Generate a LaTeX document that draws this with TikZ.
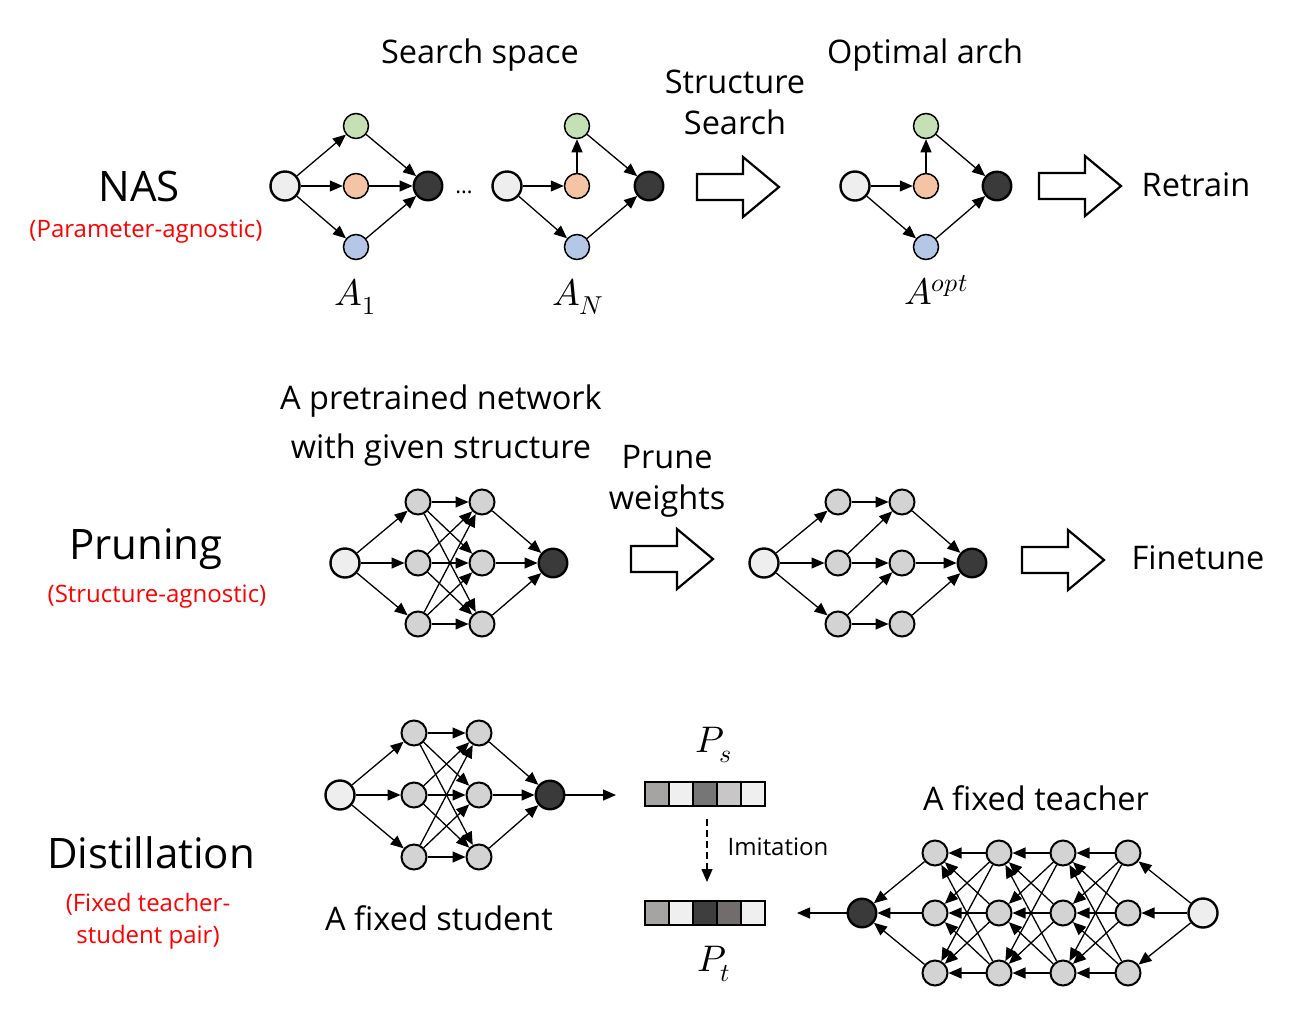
\documentclass[tikz,border=0pt]{standalone}
\usepackage{fontspec}
\usepackage{unicode-math}
\setmainfont{Open Sans}
\setmathfont{Latin Modern Math}
\usetikzlibrary{arrows.meta}
\definecolor{cgreen}{HTML}{C5E0B4}
\definecolor{corange}{HTML}{F4C4A4}
\definecolor{cblue}{HTML}{B4C7E7}
\definecolor{cin}{HTML}{EEEEEE}
\definecolor{cout}{HTML}{3A3A3A}
\definecolor{chid}{HTML}{D3D3D3}
\definecolor{cred}{HTML}{FF0000}
\definecolor{g1}{HTML}{A6A3A3}
\definecolor{g2}{HTML}{EFEFEF}
\definecolor{g3}{HTML}{767676}
\definecolor{g4}{HTML}{C8C6C6}
\definecolor{g5}{HTML}{3E3E3E}
\definecolor{g6}{HTML}{716D6D}
\tikzset{
  nd/.style={circle,draw,inner sep=0pt},
  inp/.style={nd,fill=cin,line width=2.4pt,minimum size=29pt},
  outn/.style={nd,fill=cout,line width=2.4pt,minimum size=28.5pt},
  colnode/.style={nd,line width=1.5pt,minimum size=25pt,fill=#1},
  hid/.style={nd,fill=chid,line width=2pt,minimum size=25pt},
  tip/.style={-{Triangle[length=13pt,width=11pt]}},
  edge/.style={line width=1.3pt,tip},
  barrow/.style={draw,line width=2.2pt,fill=white,line join=miter},
  cell/.style={draw,line width=2pt,minimum width=24pt,minimum height=24pt,inner sep=0pt,fill=#1},
  ttl/.style={font=\fontsize{32.5}{41}\selectfont,align=center},
  big/.style={font=\fontsize{42}{50}\selectfont},
  redl/.style={font=\fontsize{24}{32}\selectfont,text=cred,align=center},
  lbl/.style={font=\fontsize{37}{40}\selectfont},
}
\newcommand\blockarr[2]{\draw[barrow] (#1,#2-13) -- ++(46,0) -- ++(0,-17) -- ++(36,30) -- ++(-36,30) -- ++(0,-17) -- ++(-46,0) -- cycle;}
\begin{document}
\begin{tikzpicture}[x=1pt,y=-1pt]
\useasboundingbox (0,0) rectangle (1310,1013);
% ---------------- NAS ----------------
\node[big] (nas) at (139,186) {NAS};
\node[redl] (nasr) at (146,232) {(Parameter-agnostic)};
\node[ttl] (ss) at (480,55) {Search space};
\node[ttl] (oa) at (925,55) {Optimal arch};
\node[ttl] (strs) at (735,102) {Structure\\Search};
\node[ttl] (retr) at (1196,185) {Retrain};
% A1
\node[inp] (ai) at (285,186) {};
\node[colnode=cgreen] (ag) at (356,126) {};
\node[colnode=corange] (ao) at (356,186) {};
\node[colnode=cblue] (ab) at (356,247) {};
\node[outn] (ax) at (428,186) {};
\foreach \s/\t in {ai/ag,ai/ao,ai/ab,ag/ax,ao/ax,ab/ax} \draw[edge] (\s) -- (\t);
\node[font=\fontsize{22}{24}\selectfont] (dots) at (464,192) {\ldots};
% AN
\node[inp] (ni) at (507,186) {};
\node[colnode=cgreen] (ng) at (577,126) {};
\node[colnode=corange] (no) at (577,186) {};
\node[colnode=cblue] (nb) at (577,247) {};
\node[outn] (nx) at (649,186) {};
\foreach \s/\t in {ni/no,no/ng,ni/nb,ng/nx,nb/nx} \draw[edge] (\s) -- (\t);
% Aopt
\node[inp] (oi) at (855,186) {};
\node[colnode=cgreen] (og) at (926,126) {};
\node[colnode=corange] (oo) at (926,186) {};
\node[colnode=cblue] (ob) at (926,247) {};
\node[outn] (ox) at (997,186) {};
\foreach \s/\t in {oi/oo,oo/og,oi/ob,og/ox,ob/ox} \draw[edge] (\s) -- (\t);
\node[lbl] (la1) at (355,297) {$A_1$};
\node[lbl] (lan) at (578,297) {$A_N$};
\node[lbl] (lao) at (936,290) {$A^{opt}$};
\blockarr{697}{187}
\blockarr{1039}{186}
% ---------------- Pruning ----------------
\node[big] (pr) at (146,549) {Pruning};
\node[redl] (prr) at (157,597) {(Structure-agnostic)};
\node[ttl] (ptn) at (441,426) {A pretrained network\\[8pt]with given structure};
\node[ttl] (pw) at (667,481) {Prune\\weights};
\node[ttl] (ft) at (1198,558) {Finetune};
% net 1
\node[inp] (pi) at (345,563) {};
\foreach \k/\y in {1/502,2/563,3/624} {
  \node[hid] (pa\k) at (418,\y) {};
  \node[hid] (pb\k) at (482,\y) {};
}
\node[outn] (px) at (553,563) {};
\foreach \k in {1,2,3} {
  \draw[edge] (pi) -- (pa\k);
  \draw[edge] (pb\k) -- (px);
  \foreach \j in {1,2,3} \draw[edge] (pa\k) -- (pb\j);
}
% net 2
\node[inp] (qi) at (764,563) {};
\foreach \k/\y in {1/502,2/563,3/624} {
  \node[hid] (qa\k) at (838,\y) {};
  \node[hid] (qb\k) at (902,\y) {};
}
\node[outn] (qx) at (972,563) {};
\foreach \k in {1,2,3} {
  \draw[edge] (qi) -- (qa\k);
  \draw[edge] (qb\k) -- (qx);
}
\foreach \s/\t in {qa1/qb1,qa2/qb1,qa2/qb2,qa3/qb2,qa3/qb3} \draw[edge] (\s) -- (\t);
\blockarr{631}{559}
\blockarr{1022}{560}
% ---------------- Distillation ----------------
\node[big] (di) at (151,853) {Distillation};
\node[redl] (dir) at (148,921) {(Fixed teacher-\\student pair)};
\node[ttl] (fs) at (439,918) {A fixed student};
\node[ttl] (fte) at (1036,798) {A fixed teacher};
% student
\node[inp] (si) at (340,795) {};
\foreach \k/\y in {1/733,2/795,3/857} {
  \node[hid] (sa\k) at (414,\y) {};
  \node[hid] (sb\k) at (479,\y) {};
}
\node[outn] (sx) at (550,795) {};
\foreach \k in {1,2,3} {
  \draw[edge] (si) -- (sa\k);
  \draw[edge] (sb\k) -- (sx);
  \foreach \j in {1,2,3} \draw[edge] (sa\k) -- (sb\j);
}
\coordinate (send) at (616,795);
\draw[edge] (sx) -- (send);
% bars
\foreach \k/\c in {1/g1,2/g2,3/g3,4/g4,5/g2}
  \node[cell=\c] (ps\k) at (633+24*\k,794) {};
\foreach \k/\c in {1/g1,2/g2,3/g5,4/g6,5/g2}
  \node[cell=\c] (pt\k) at (633+24*\k,913) {};
\node[lbl] (lps) at (714,745) {$P_s$};
\node[lbl] (lpt) at (714,964) {$P_t$};
\draw[line width=1.4pt,dash pattern=on 7pt off 4pt,tip,shorten <=12pt,shorten >=18pt] ([xshift=2pt]ps3.south) -- ([xshift=2pt]pt3.north);
\node[font=\fontsize{24}{28}\selectfont] (imi) at (778,847) {Imitation};
% teacher
\node[outn] (tx) at (862,913) {};
\foreach \l/\x in {1/935,2/999,3/1063,4/1128} {
  \foreach \k/\y in {1/853,2/913,3/973} \node[hid] (t\l\k) at (\x,\y) {};
}
\node[inp] (ti) at (1203,913) {};
\foreach \k in {1,2,3} {
  \draw[edge] (ti) -- (t4\k);
  \draw[edge] (t1\k) -- (tx);
  \foreach \j in {1,2,3} {
    \draw[edge] (t4\k) -- (t3\j);
    \draw[edge] (t3\k) -- (t2\j);
    \draw[edge] (t2\k) -- (t1\j);
  }
}
\coordinate (tend) at (797,913);
\draw[edge] (tx) -- (tend);
\end{tikzpicture}
\end{document}
